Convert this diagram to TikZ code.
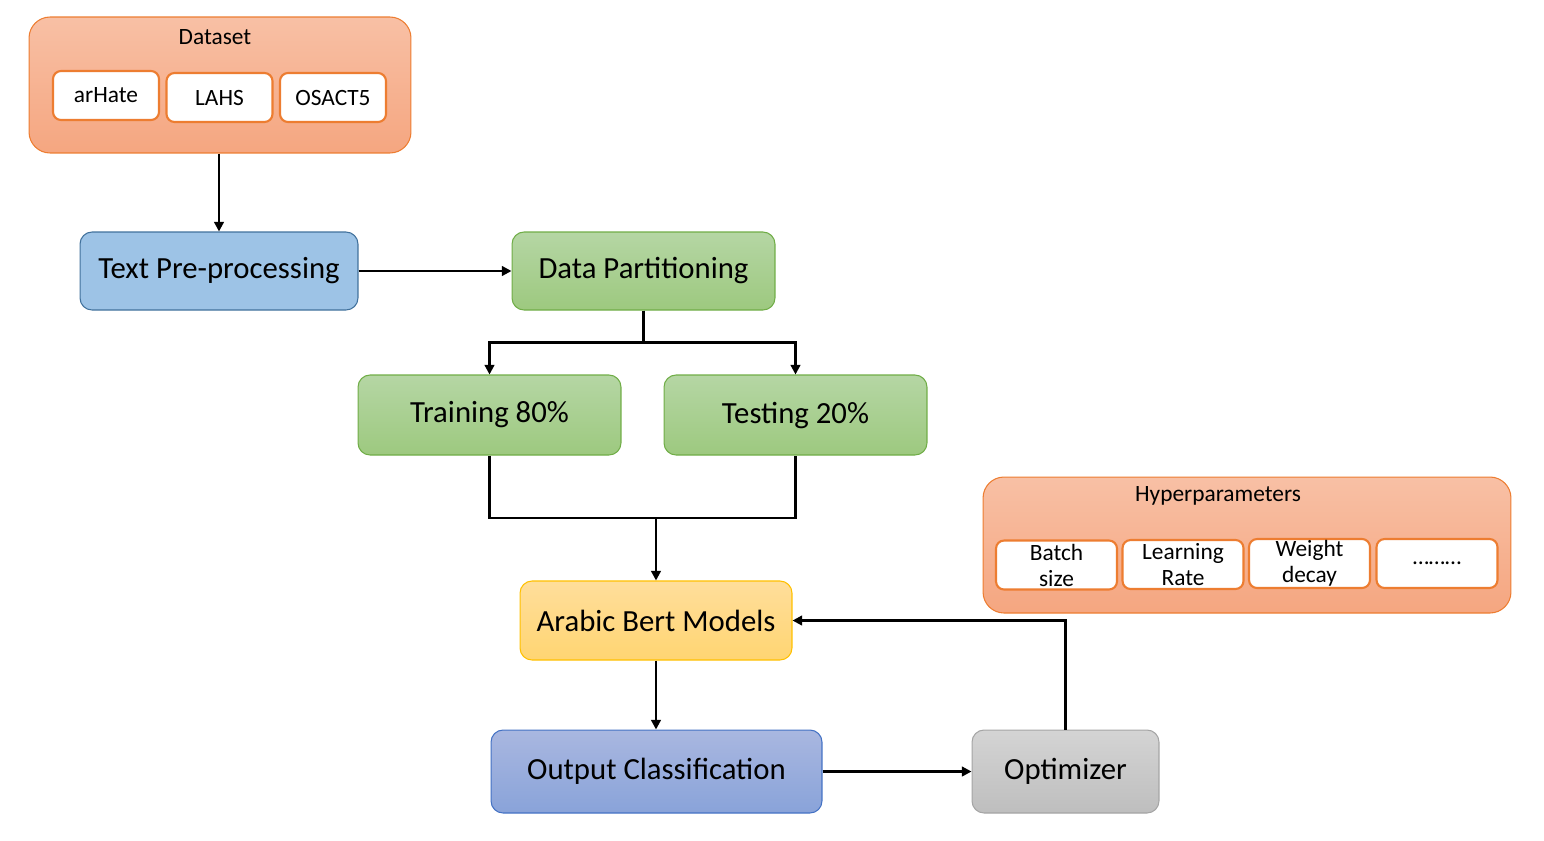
\documentclass[tikz,border=0pt]{standalone}
\usepackage{fontspec}
\setmainfont{Carlito}
\usetikzlibrary{arrows.meta}
\definecolor{carrot}{RGB}{237, 125, 49}
\definecolor{peachtop}{RGB}{248, 192, 165}
\definecolor{peachbot}{RGB}{245, 166, 128}
\definecolor{skyfill}{RGB}{157, 195, 230}
\definecolor{skyline}{RGB}{65, 113, 156}
\definecolor{leaftop}{RGB}{181, 214, 164}
\definecolor{leafbot}{RGB}{157, 201, 127}
\definecolor{leafline}{RGB}{112, 173, 71}
\definecolor{sunflowertop}{RGB}{255, 222, 155}
\definecolor{sunflowerbot}{RGB}{255, 213, 114}
\definecolor{sunflowerline}{RGB}{255, 192, 0}
\definecolor{navytop}{RGB}{169, 183, 224}
\definecolor{navybot}{RGB}{137, 163, 217}
\definecolor{navyline}{RGB}{68, 114, 196}
\definecolor{silvertop}{RGB}{212, 212, 212}
\definecolor{silverbot}{RGB}{190, 190, 190}
\definecolor{silverline}{RGB}{165, 165, 165}

\begin{document}
\begin{tikzpicture}[x=0.02cm, y=-0.02cm,
        group/.style={draw=carrot, top color=peachtop, bottom color=peachbot, rounded corners=0.42cm,
                      minimum width=#1, minimum height=2.72cm, inner sep=0pt, line width=0.6pt},
        item/.style={draw=carrot, fill=white, rounded corners=0.16cm, line width=1.2pt,
                     minimum width=#1, minimum height=0.98cm, inner sep=0pt, align=center,
                     font=\fontsize{13.3}{14.8}\selectfont},
        stage/.style={rounded corners=0.24cm, inner sep=0pt, line width=0.6pt,
                      font=\fontsize{17.5}{20}\selectfont},
        small/.style={font=\fontsize{13.3}{15}\selectfont},
        link/.style={line width=1.3pt},
        arr/.style={line width=1.3pt, -{Triangle[length=5.5pt,width=5.5pt]}}]
            \useasboundingbox (0,0) rectangle (1544,840);
            % dataset group
            \node[group=7.64cm]                                    (dataset) at (220, 85.0) {};
            \node[small]                                           (dstitle) at (215, 37.0) {Dataset};
            \node[item=2.12cm]                                     (arhate)  at (106, 95.5) {arHate};
            \node[item=2.12cm]                                     (lahs)    at (219.5, 97.5) {LAHS};
            \node[item=2.12cm]                                     (osact)   at (333, 97.5) {OSACT5};
            % pipeline
            \node[stage, draw=skyline, fill=skyfill, minimum width=5.56cm, minimum height=1.56cm]
                                                                   (prep)    at (219, 271) {Text Pre-processing};
            \node[stage, draw=leafline, top color=leaftop, bottom color=leafbot, minimum width=5.26cm, minimum height=1.56cm]
                                                                   (part)    at (643.5, 271) {Data Partitioning};
            \node[stage, draw=leafline, top color=leaftop, bottom color=leafbot, minimum width=5.26cm, minimum height=1.6cm]
                                                                   (train)   at (489.5, 415) {Training 80\%};
            \node[stage, draw=leafline, top color=leaftop, bottom color=leafbot, minimum width=5.26cm, minimum height=1.6cm]
                                                                   (test)    at (795.5, 415) {Testing 20\%};
            \node[stage, draw=sunflowerline, top color=sunflowertop, bottom color=sunflowerbot, minimum width=5.44cm, minimum height=1.58cm]
                                                                   (bert)    at (656, 620.5) {Arabic Bert Models};
            \node[stage, draw=navyline, top color=navytop, bottom color=navybot, minimum width=6.62cm, minimum height=1.66cm]
                                                                   (out)     at (656.5, 771.5) {Output Classification};
            \node[stage, draw=silverline, top color=silvertop, bottom color=silverbot, minimum width=3.74cm, minimum height=1.66cm]
                                                                   (opt)     at (1065.5, 771.5) {Optimizer};
            % hyperparameters group
            \node[group=10.56cm]                                   (hyper)   at (1247, 545) {};
            \node[small]                                           (hptitle) at (1218, 496) {Hyperparameters};
            \node[item=2.42cm]                                     (batch)   at (1056.5, 565) {Batch\\size};
            \node[item=2.42cm]                                     (lrate)   at (1183, 564.5) {Learning\\Rate};
            \node[item=2.42cm]                                     (wdecay)  at (1309.5, 563.5) {Weight\\decay};
            \node[item=2.42cm]                                     (more)    at (1437, 563.5) {………};
            % connectors
            \coordinate (join) at (656, 518);
            \draw[arr]  (dataset.south -| prep.north) -- (prep.north);
            \draw[arr]  (prep.east) -- (part.west);
            \draw[arr]  (part.south) -- ++(0, 32) -| (train.north);
            \draw[arr]  (part.south) -- ++(0, 32) -| (test.north);
            \draw[link] (train.south) |- (join) -| (test.south);
            \draw[arr]  (join) -- (bert.north);
            \draw[arr]  (bert.south) -- (bert.south |- out.north);
            \draw[arr]  (out.east) -- (opt.west);
            \draw[arr]  (opt.north) |- (bert.east);
        \end{tikzpicture}
\end{document}
